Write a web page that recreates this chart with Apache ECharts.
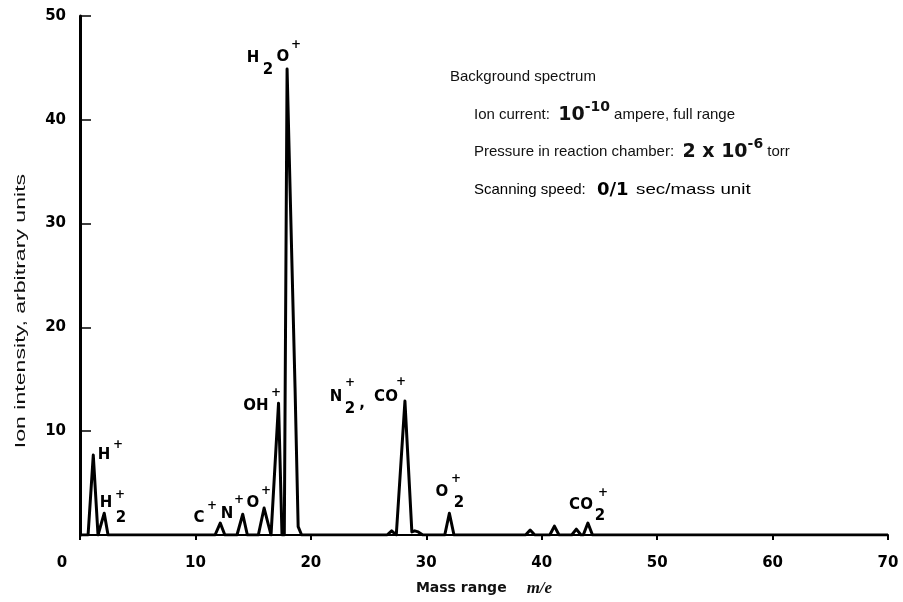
<!DOCTYPE html>
<html>
<head>
<meta charset="utf-8">
<script src="https://cdn.jsdelivr.net/npm/echarts@6/dist/echarts.min.js"></script>
<style>
html,body{margin:0;padding:0;background:#fff;}
#chart{width:903px;height:602px;}
</style>
</head>
<body>
<div id="chart"></div>
<script>
// ---- data ----
const massValues = [0, 0.7, 1.15, 1.56, 1.73, 2.1, 2.43, 11.7, 12.15, 12.55, 13.6, 14.1, 14.5, 15.45, 15.95, 16.55, 16.7, 17.2, 17.5, 17.7, 17.94, 18.63, 18.9, 19.2, 26.6, 27.0, 27.4, 28.15, 28.75, 29.0, 29.3, 29.7, 31.6, 32.0, 32.4, 38.6, 39.0, 39.4, 40.7, 41.1, 41.5, 42.6, 43.0, 43.4, 43.6, 44.0, 44.4, 70];
const intensityValues = [0, 0, 7.7, 0, 0, 2.1, 0, 0, 1.15, 0, 0, 2.0, 0, 0, 2.6, 0, 0, 12.7, 0, 0, 44.9, 14.2, 0.8, 0, 0, 0.4, 0, 12.9, 0.3, 0.4, 0.3, 0, 0, 2.1, 0, 0, 0.48, 0, 0, 0.86, 0, 0, 0.57, 0, 0, 1.15, 0, 0];
const xTicks = [0, 10, 20, 30, 40, 50, 60, 70];
const yTicks = [0, 10, 20, 30, 40, 50];
const xAxisTitle = 'Mass range';
const xAxisUnit = 'm/e';
const yAxisTitle = 'Ion intensity, arbitrary units';

const FONT = 'DejaVu Sans';
const NF = 'Liberation Sans';
const chart = echarts.init(document.getElementById('chart'), null, {renderer: 'canvas'});

function t(x, y, text, size, bold, align, family) {
  return {
    type: 'text', x: x, y: y, silent: true,
    style: {
      text: text, fontFamily: family || FONT, fontSize: size,
      fontWeight: bold ? 'bold' : 'normal', fill: '#000',
      align: align || 'center', verticalAlign: 'middle'
    }
  };
}
const B = 15, S = 12;
const peakLabelGraphics = [
  t(104, 455, 'H', B, true), t(118, 445, '+', S, true),
  t(106, 503, 'H', B, true), t(121, 518, '2', B, true), t(120, 495, '+', S, true),
  t(199, 518, 'C', B, true), t(212, 506, '+', S, true),
  t(227, 514, 'N', B, true), t(239, 500, '+', S, true),
  t(253, 503, 'O', B, true), t(266, 491, '+', S, true),
  t(256, 406, 'OH', B, true), t(276, 393, '+', S, true),
  t(253, 58, 'H', B, true), t(268, 70, '2', B, true), t(283, 57, 'O', B, true), t(296, 45, '+', S, true),
  t(336, 397, 'N', B, true), t(350, 409, '2', B, true), t(350, 383, '+', S, true),
  t(362, 404, ',', B, true), t(386, 397, 'CO', B, true), t(401, 382, '+', S, true),
  t(442, 492, 'O', B, true), t(456, 479, '+', S, true), t(459, 503, '2', B, true),
  t(581, 505, 'CO', B, true), t(603, 493, '+', S, true), t(600, 516, '2', B, true)
];

const noteRich = {
  n: {fontFamily: NF, fontSize: 15, fill: '#111', lineHeight: 30, verticalAlign: 'middle'},
  b: {fontFamily: FONT, fontSize: 19, fontWeight: 'bold', fill: '#111', lineHeight: 30, verticalAlign: 'middle'},
  sup: {fontFamily: FONT, fontSize: 14, fontWeight: 'bold', fill: '#111', lineHeight: 14, verticalAlign: 'top'}
};
function note(x, y, text) {
  return {type: 'text', x: x, y: y, silent: true,
    style: {text: text, rich: noteRich, align: 'left', verticalAlign: 'middle'}};
}
const unitText = t(636, 190, 'sec/mass unit', 15, false, 'left', NF);
unitText.scaleX = 1.25;
const noteGraphics = [
  note(450, 77, '{n|Background spectrum}'),
  note(474, 115, '{n|Ion current:  }{b|10}{sup|-10}{n| ampere, full range}'),
  note(474, 152, '{n|Pressure in reaction chamber:  }{b|2 x 10}{sup|-6}{n| torr}'),
  t(474, 190, 'Scanning speed:', 15, false, 'left', NF),
  t(597, 190, '0/1', 18, true, 'left'),
  unitText
];

const yTitleGraphic = {
  type: 'text', x: 21, y: 311, rotation: Math.PI / 2, scaleX: 1.65, silent: true,
  style: {text: yAxisTitle, fontFamily: NF, fontSize: 14, fill: '#111', align: 'center', verticalAlign: 'middle'}
};

chart.setOption({
  animation: false,
  backgroundColor: '#fff',
  grid: {left: 80, right: 15, top: 16, bottom: 64, containLabel: false},
  xAxis: {
    type: 'value', min: xTicks[0], max: xTicks[xTicks.length - 1], interval: 10,
    name: '{a|' + xAxisTitle + '}{g| }{i|' + xAxisUnit + '}', nameLocation: 'middle', nameGap: 45,
    nameTextStyle: {
      rich: {
        a: {fontFamily: FONT, fontWeight: 'bold', fontSize: 14, color: '#111'},
        g: {fontSize: 14, width: 20},
        i: {fontFamily: 'Liberation Serif', fontStyle: 'italic', fontWeight: 'bold', fontSize: 17, color: '#111'}
      }
    },
    axisLine: {show: true, lineStyle: {color: '#000', width: 2}},
    axisTick: {show: true, inside: false, length: 5, lineStyle: {color: '#000', width: 2}},
    axisLabel: {
      color: '#000', fontFamily: FONT, fontSize: 15, fontWeight: 'bold', margin: 21,
      formatter: function (v) { return v === 0 ? '{z|0}' : String(v); },
      rich: {z: {fontFamily: FONT, fontSize: 15, fontWeight: 'bold', color: '#000', padding: [0, 36, 0, 0]}}
    },
    splitLine: {show: false}
  },
  yAxis: {
    type: 'value', min: yTicks[0], max: yTicks[yTicks.length - 1], interval: 10,
    axisLine: {show: true, lineStyle: {color: '#000', width: 3}},
    axisTick: {show: true, inside: true, length: 11, lineStyle: {color: '#000', width: 1.5}},
    axisLabel: {
      color: '#000', fontFamily: FONT, fontSize: 15, fontWeight: 'bold', margin: 14,
      formatter: function (v) { return v === 0 ? '' : String(v); }
    },
    splitLine: {show: false}
  },
  series: [{
    type: 'line',
    data: massValues.map(function (m, i) { return [m, intensityValues[i]]; }),
    showSymbol: false,
    lineStyle: {color: '#000', width: 3, join: 'round'},
    z: 3
  }],
  graphic: [].concat(peakLabelGraphics, noteGraphics, [yTitleGraphic])
});
</script>
</body>
</html>
